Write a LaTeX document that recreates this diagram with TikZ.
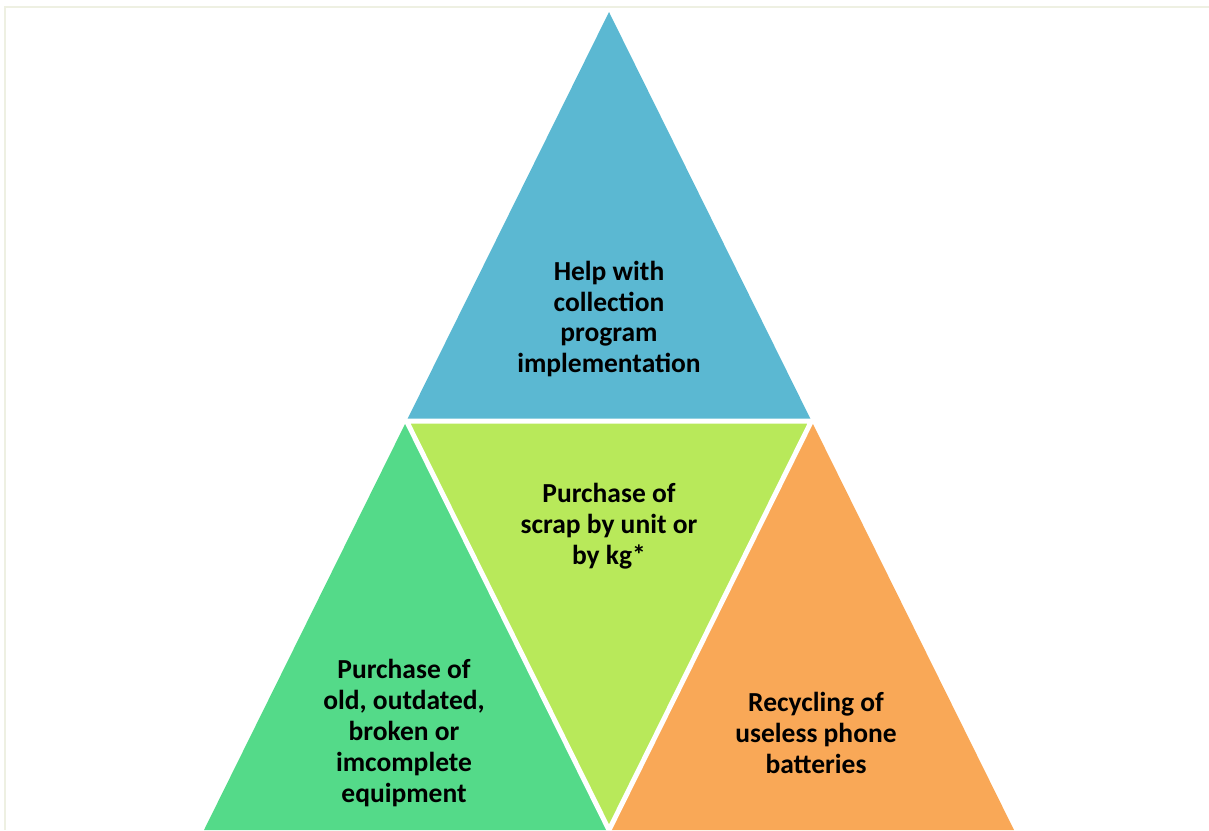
\documentclass[tikz,border=0pt]{standalone}
\usepackage{fontspec}
\setmainfont{Carlito}
\usetikzlibrary{calc}
\definecolor{topblue}{HTML}{5BB8D2}
\definecolor{midgreen}{HTML}{B8E95A}
\definecolor{leftgreen}{HTML}{54DA89}
\definecolor{rightorange}{HTML}{F9A857}
\definecolor{framebeige}{HTML}{EEF0E2}
\tikzstyle{tritext}=[align=center,inner sep=0pt,text=black,font=\bfseries\fontsize{27.5}{30.8}\selectfont]
\tikzstyle{gap}=[white,line width=5pt,line join=miter]
\begin{document}
\begin{tikzpicture}[x=1pt,y=-1pt]
	\useasboundingbox (0,0) rectangle (1209,830);
	\draw[framebeige,line width=2pt] (5,830) -- (5,7) -- (1209,7);
	% corners of the big triangle and the midpoints of its sides
	\coordinate (apex) at (609,12);
	\coordinate (bl) at (204,830);
	\coordinate (br) at (1014,830);
	\coordinate (ml) at ($(apex)!0.5!(bl)$);
	\coordinate (mr) at ($(apex)!0.5!(br)$);
	\coordinate (mb) at ($(bl)!0.5!(br)$);
	\fill[topblue] (apex) -- (ml) -- (mr) -- cycle;
	\fill[leftgreen] (ml) -- (bl) -- (mb) -- cycle;
	\fill[rightorange] (mr) -- (mb) -- (br) -- cycle;
	\fill[midgreen] (ml) -- (mr) -- (mb) -- cycle;
	\draw[gap] (ml) -- (mr) -- (mb) -- cycle;
	\node[tritext] (help) at (609,319) {Help with\\collection\\program\\implementation};
	\node[tritext] (scrap) at (609,526) {Purchase of\\scrap by unit or\\by kg*};
	\node[tritext] (equip) at (404,733) {Purchase of\\old, outdated,\\broken or\\imcomplete\\equipment};
	\node[tritext] (batt) at (816,733) {Recycling of\\useless phone\\batteries};
\end{tikzpicture}
\end{document}
